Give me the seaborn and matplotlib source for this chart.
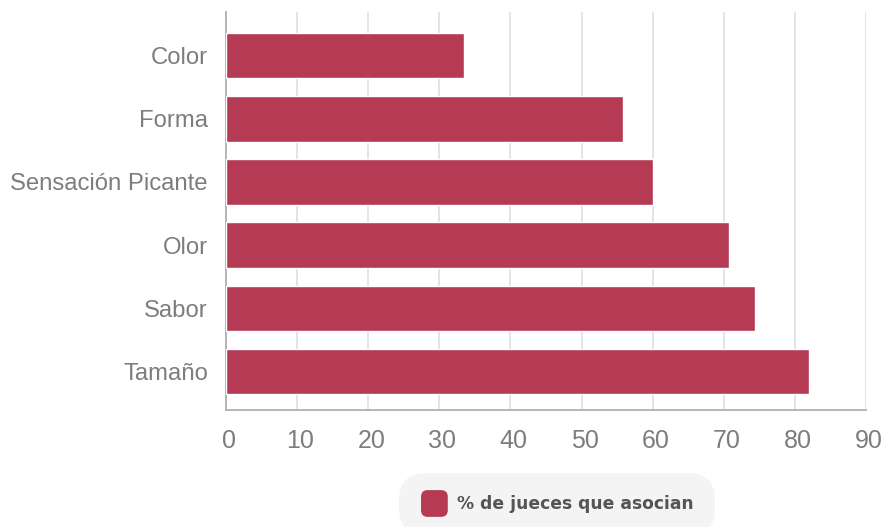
import matplotlib
matplotlib.use("Agg")
import matplotlib.pyplot as plt
from matplotlib.patches import Patch, FancyBboxPatch
from matplotlib.legend_handler import HandlerPatch
from matplotlib.transforms import ScaledTranslation
import seaborn as sns
import pandas as pd

categories = ["Color", "Forma", "Sensación Picante", "Olor", "Sabor", "Tamaño"]
values = [33.5, 55.8, 60.1, 70.7, 74.4, 82.0]
x_ticks = [0, 10, 20, 30, 40, 50, 60, 70, 80, 90]
series_label = "% de jueces que asocian"

bar_color = "#b53a54"
text_gray = "#7d7d7d"

df = pd.DataFrame({"atributo": categories, "porcentaje": values})

sns.set_theme(style="white")
plt.rcParams["font.family"] = ["Liberation Sans Narrow", "Liberation Sans", "DejaVu Sans"]

fig = plt.figure(figsize=(8.82, 5.27), dpi=100)
ax = fig.add_axes([226 / 882, 1 - 410 / 527, 640 / 882, 398 / 527])

sns.barplot(data=df, x="porcentaje", y="atributo", order=categories,
            color=bar_color, saturation=1, width=0.72, ax=ax, zorder=3)

ax.set_xlim(0, 90)
ax.set_ylim(5.61, -0.69)
ax.set_xticks(x_ticks)
ax.set_xlabel("")
ax.set_ylabel("")
ax.grid(axis="x", color="#e2e2e2", linewidth=1.3, zorder=0)
ax.grid(axis="y", visible=False)

for side in ("top", "right"):
    ax.spines[side].set_visible(False)
for side in ("left", "bottom"):
    ax.spines[side].set_color("#b0b0b0")
    ax.spines[side].set_linewidth(1.3)

ax.tick_params(axis="y", length=0, pad=13, labelsize=17.2, labelcolor=text_gray)
ax.tick_params(axis="x", length=0, pad=14, labelsize=18, labelcolor=text_gray)
# nudge the value labels slightly to the right of their gridlines
shift = ScaledTranslation(0.03, 0, fig.dpi_scale_trans)
for lab in ax.get_xticklabels():
    lab.set_transform(lab.get_transform() + shift)


class RoundedSquare(HandlerPatch):
    def create_artists(self, legend, orig_handle, xdescent, ydescent,
                       width, height, fontsize, trans):
        s = height * 1.75
        p = FancyBboxPatch((-xdescent + (width - s) / 2, -ydescent + (height - s) / 2),
                           s, s, boxstyle="round,pad=0,rounding_size=%f" % (s * 0.25),
                           facecolor=orig_handle.get_facecolor(), edgecolor="none",
                           transform=trans)
        return [p]


handle = Patch(facecolor=bar_color, label=series_label)
leg = fig.legend(handles=[handle], loc="center", bbox_to_anchor=(0.632, 0.043),
                 frameon=True, handler_map={Patch: RoundedSquare()},
                 prop={"family": ["DejaVu Sans"], "weight": "bold", "size": 12.3},
                 labelcolor="#555555", handlelength=1.5, handleheight=1.0,
                 handletextpad=0.55, borderpad=1.3, borderaxespad=0)
frame = leg.get_frame()
frame.set_facecolor("#f4f4f4")
frame.set_edgecolor("none")
frame.set_alpha(1)
frame.set_boxstyle("round,pad=0,rounding_size=1.6")

fig.savefig("out.png", dpi=100)
